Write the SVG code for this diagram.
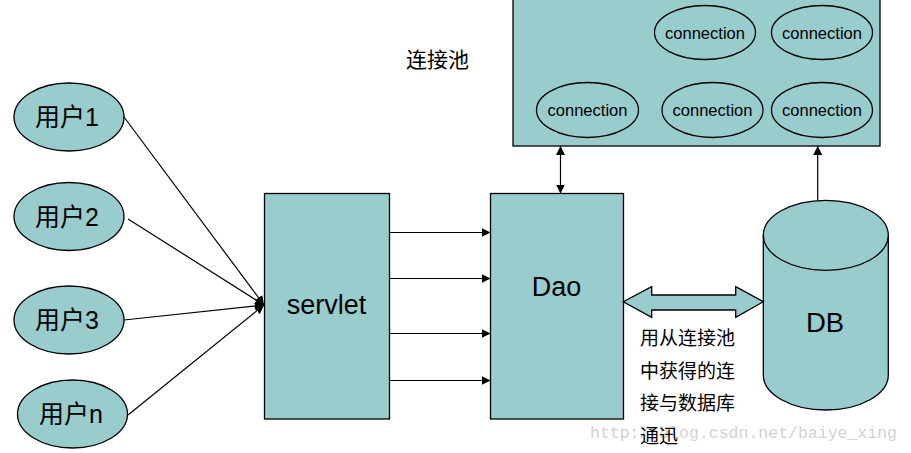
<svg xmlns="http://www.w3.org/2000/svg" width="911" height="453" viewBox="0 0 911 453">
<style>
.shape{fill:#99cccc;stroke:#000;stroke-width:1.3}
.line{stroke:#000;stroke-width:1.2;fill:none}
.lbl{font-family:"Liberation Sans",Arial,sans-serif;fill:#000;text-anchor:middle}
.conn{font-size:16.5px}
.cjk{font-family:"Liberation Sans","Noto Sans CJK SC",sans-serif;fill:#000}
.wm{font-family:"Liberation Mono","Courier New",monospace;fill:#d2d2d2;font-size:16.5px}
</style>
<defs>
<marker id="ah" viewBox="0 0 10 10" refX="10" refY="5" markerWidth="9" markerHeight="9" markerUnits="userSpaceOnUse" orient="auto">
<path d="M0,0 L10,5 L0,10 z" fill="#000"/>
</marker>
<marker id="ahs" viewBox="0 0 10 10" refX="0" refY="5" markerWidth="9" markerHeight="9" markerUnits="userSpaceOnUse" orient="auto">
<path d="M10,0 L0,5 L10,10 z" fill="#000"/>
</marker>
</defs>
<rect width="911" height="453" fill="#fff"/>
<text class="wm" x="590" y="438">http://blog.csdn.net/baiye_xing</text>

<g id="pool">
<rect class="shape" x="513" y="-3" width="367" height="149"/>
<g id="conn1"><ellipse class="shape" cx="705" cy="32.5" rx="50.5" ry="27"/><text class="lbl conn" x="705" y="38.5">connection</text></g>
<g id="conn2"><ellipse class="shape" cx="822" cy="32.5" rx="50.5" ry="27"/><text class="lbl conn" x="822" y="38.5">connection</text></g>
<g id="conn3"><ellipse class="shape" cx="587.5" cy="110" rx="51" ry="27.5"/><text class="lbl conn" x="587.5" y="116">connection</text></g>
<g id="conn4"><ellipse class="shape" cx="712.5" cy="110" rx="50.5" ry="27.5"/><text class="lbl conn" x="712.5" y="116">connection</text></g>
<g id="conn5"><ellipse class="shape" cx="822" cy="110" rx="50.5" ry="27.5"/><text class="lbl conn" x="822" y="116">connection</text></g>
</g>
<g id="pool-label"><text class="cjk" x="406" y="67" font-size="21">连接池</text></g>

<g id="user1"><ellipse class="shape" cx="69" cy="117" rx="55" ry="34"/><text class="cjk" x="67" y="126" font-size="25" text-anchor="middle">用户1</text></g>
<g id="user2"><ellipse class="shape" cx="69" cy="216.5" rx="55" ry="34"/><text class="cjk" x="67" y="225.5" font-size="25" text-anchor="middle">用户2</text></g>
<g id="user3"><ellipse class="shape" cx="69" cy="320" rx="55" ry="34"/><text class="cjk" x="67" y="329" font-size="25" text-anchor="middle">用户3</text></g>
<g id="usern"><ellipse class="shape" cx="72.5" cy="414" rx="55" ry="34"/><text class="cjk" x="71" y="423" font-size="25" text-anchor="middle">用户n</text></g>

<g id="servlet"><rect class="shape" x="264.5" y="193.5" width="125" height="225.5"/><text class="lbl" x="326.5" y="314" font-size="27">servlet</text></g>
<g id="dao"><rect class="shape" x="490.5" y="193.5" width="133" height="225.5"/><text class="lbl" x="556.5" y="296" font-size="27">Dao</text></g>

<g id="db">
<path class="shape" d="M763.3,235.3 L763.3,375 A62.5,35 0 0 0 888.3,375 L888.3,235.3"/>
<ellipse class="shape" cx="825.8" cy="235.3" rx="62.5" ry="35"/>
<text class="lbl" x="825" y="332" font-size="27.5">DB</text>
</g>

<g id="note"><text class="cjk" font-size="19">
<tspan x="640" y="345">用从连接池</tspan>
<tspan x="640" y="378">中获得的连</tspan>
<tspan x="640" y="410">接与数据库</tspan>
<tspan x="640" y="443">通迅</tspan>
</text></g>

<g id="connectors">
<line class="line" x1="124" y1="117" x2="264" y2="305" marker-end="url(#ah)"/>
<line class="line" x1="128" y1="219" x2="264" y2="305" marker-end="url(#ah)"/>
<line class="line" x1="124" y1="320" x2="264" y2="305" marker-end="url(#ah)"/>
<line class="line" x1="128" y1="415" x2="264" y2="305" marker-end="url(#ah)"/>
<line class="line" x1="389.5" y1="232.5" x2="490.5" y2="232.5" marker-end="url(#ah)"/>
<line class="line" x1="389.5" y1="278.5" x2="490.5" y2="278.5" marker-end="url(#ah)"/>
<line class="line" x1="389.5" y1="333.5" x2="490.5" y2="333.5" marker-end="url(#ah)"/>
<line class="line" x1="389.5" y1="380.5" x2="490.5" y2="380.5" marker-end="url(#ah)"/>
<line class="line" x1="560.5" y1="146" x2="560.5" y2="193.5" marker-start="url(#ahs)" marker-end="url(#ah)"/>
<line class="line" x1="817.7" y1="200" x2="817.7" y2="146" marker-end="url(#ah)"/>
<path class="shape" d="M623.3,301.7 L651.7,286.7 L651.7,295 L735.7,295 L735.7,286.7 L763.3,301.7 L735.7,317.3 L735.7,310 L651.7,310 L651.7,317.3 Z"/>
</g>
</svg>
